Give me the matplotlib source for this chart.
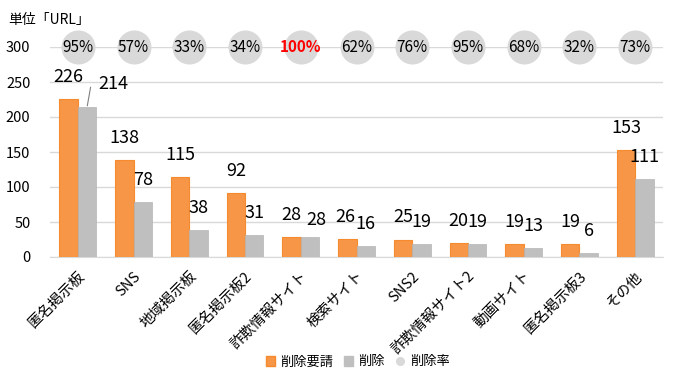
import matplotlib
matplotlib.use("Agg")
import matplotlib.pyplot as plt
import numpy as np
from matplotlib.lines import Line2D
from matplotlib.patches import Patch

plt.rcParams['font.family'] = ['Noto Sans CJK JP', 'DejaVu Sans']

categories = ["匿名掲示板", "SNS", "地域掲示板", "匿名掲示板2", "詐欺情報サイト", "検索サイト",
              "SNS2", "詐欺情報サイト2", "動画サイト", "匿名掲示板3", "その他"]
requests = [226, 138, 115, 92, 28, 26, 25, 20, 19, 19, 153]
deleted = [214, 78, 38, 31, 28, 16, 19, 19, 13, 6, 111]
rates = ["95%", "57%", "33%", "34%", "100%", "62%", "76%", "95%", "68%", "32%", "73%"]
rate_level = 300

W, H = 693, 377
fig = plt.figure(figsize=(W / 100, H / 100), dpi=100)
ax = fig.add_axes([50 / W, (H - 257) / H, (663 - 50) / W, (257 - 47) / H])

orange = "#f79646"
orange_edge = "#f58a2f"
gray = "#bfbfbf"
circle = "#d9d9d9"

x = np.arange(len(categories))
bw = 0.33
ax.bar(x - bw / 2, requests, bw, color=orange, edgecolor=orange_edge, linewidth=0.8, label="削除要請", zorder=3)
ax.bar(x + bw / 2, deleted, bw, color=gray, edgecolor="#b5b5b5", linewidth=0.5, label="削除", zorder=3)
ax.scatter(x, [rate_level] * len(x), s=600, color=circle, zorder=4, clip_on=False, label="削除率",
           linewidths=0)

for i, r in enumerate(rates):
    if r == "100%":
        ax.text(x[i], rate_level, r, ha="center", va="center", fontsize=11, color="red",
                fontweight="bold", zorder=5)
    else:
        ax.text(x[i], rate_level, r, ha="center", va="center", fontsize=11, color="black", zorder=5)

# value labels
for i in range(len(x)):
    dx_o = -2 if i == 5 else 0
    ax.annotate(str(requests[i]), (x[i] - bw / 2, requests[i]), xytext=(dx_o, 22),
                textcoords="offset pixels", ha="center", va="center", fontsize=13)
    if i == 0:
        ax.annotate(str(deleted[i]), (x[i] + bw / 2, deleted[i]), xytext=(11, 23),
                    textcoords="offset pixels", ha="left", va="center", fontsize=13,
                    arrowprops=dict(arrowstyle="-", color="#808080", lw=0.8,
                                    relpos=(0, 0.5),
                                    connectionstyle="angle,angleA=0,angleB=80,rad=0",
                                    shrinkA=4, shrinkB=1))
    else:
        off = (6, 17) if i == 4 else (0, 22)
        ax.annotate(str(deleted[i]), (x[i] + bw / 2, deleted[i]), xytext=off,
                    textcoords="offset pixels", ha="center", va="center", fontsize=13)

ax.set_xlim(-0.5, len(x) - 0.5)
ax.set_ylim(0, 300)
ax.set_yticks(range(0, 301, 50))
ax.tick_params(axis="y", length=0, labelsize=10.5, pad=14)
ax.tick_params(axis="x", length=0)
ax.set_xticks(x)
ax.set_xticklabels(categories, rotation=45, ha="right", rotation_mode="anchor", fontsize=10.5)
for lbl in ax.get_xticklabels():
    lbl.set_y(-0.035)
ax.grid(axis="y", color="#d9d9d9", linewidth=1, zorder=0)
for s in ["top", "right", "left"]:
    ax.spines[s].set_visible(False)
ax.spines["bottom"].set_color("#d9d9d9")
ax.set_axisbelow(True)

fig.text(8 / W, 1 - 20 / H, "単位「URL」", fontsize=10, va="center", ha="left")

handles = [Patch(facecolor=orange, edgecolor=orange_edge, label="削除要請"),
           Patch(facecolor=gray, edgecolor=gray, label="削除"),
           Line2D([], [], marker="o", linestyle="none", markersize=5.5, color=circle, label="削除率")]
fig.legend(handles=handles, loc="center", bbox_to_anchor=(358 / W, 1 - 362 / H), ncol=3,
           frameon=False, fontsize=9.5, handlelength=0.7, handleheight=0.7, handletextpad=0.4,
           columnspacing=0.8)

fig.savefig("out.png", dpi=100)
